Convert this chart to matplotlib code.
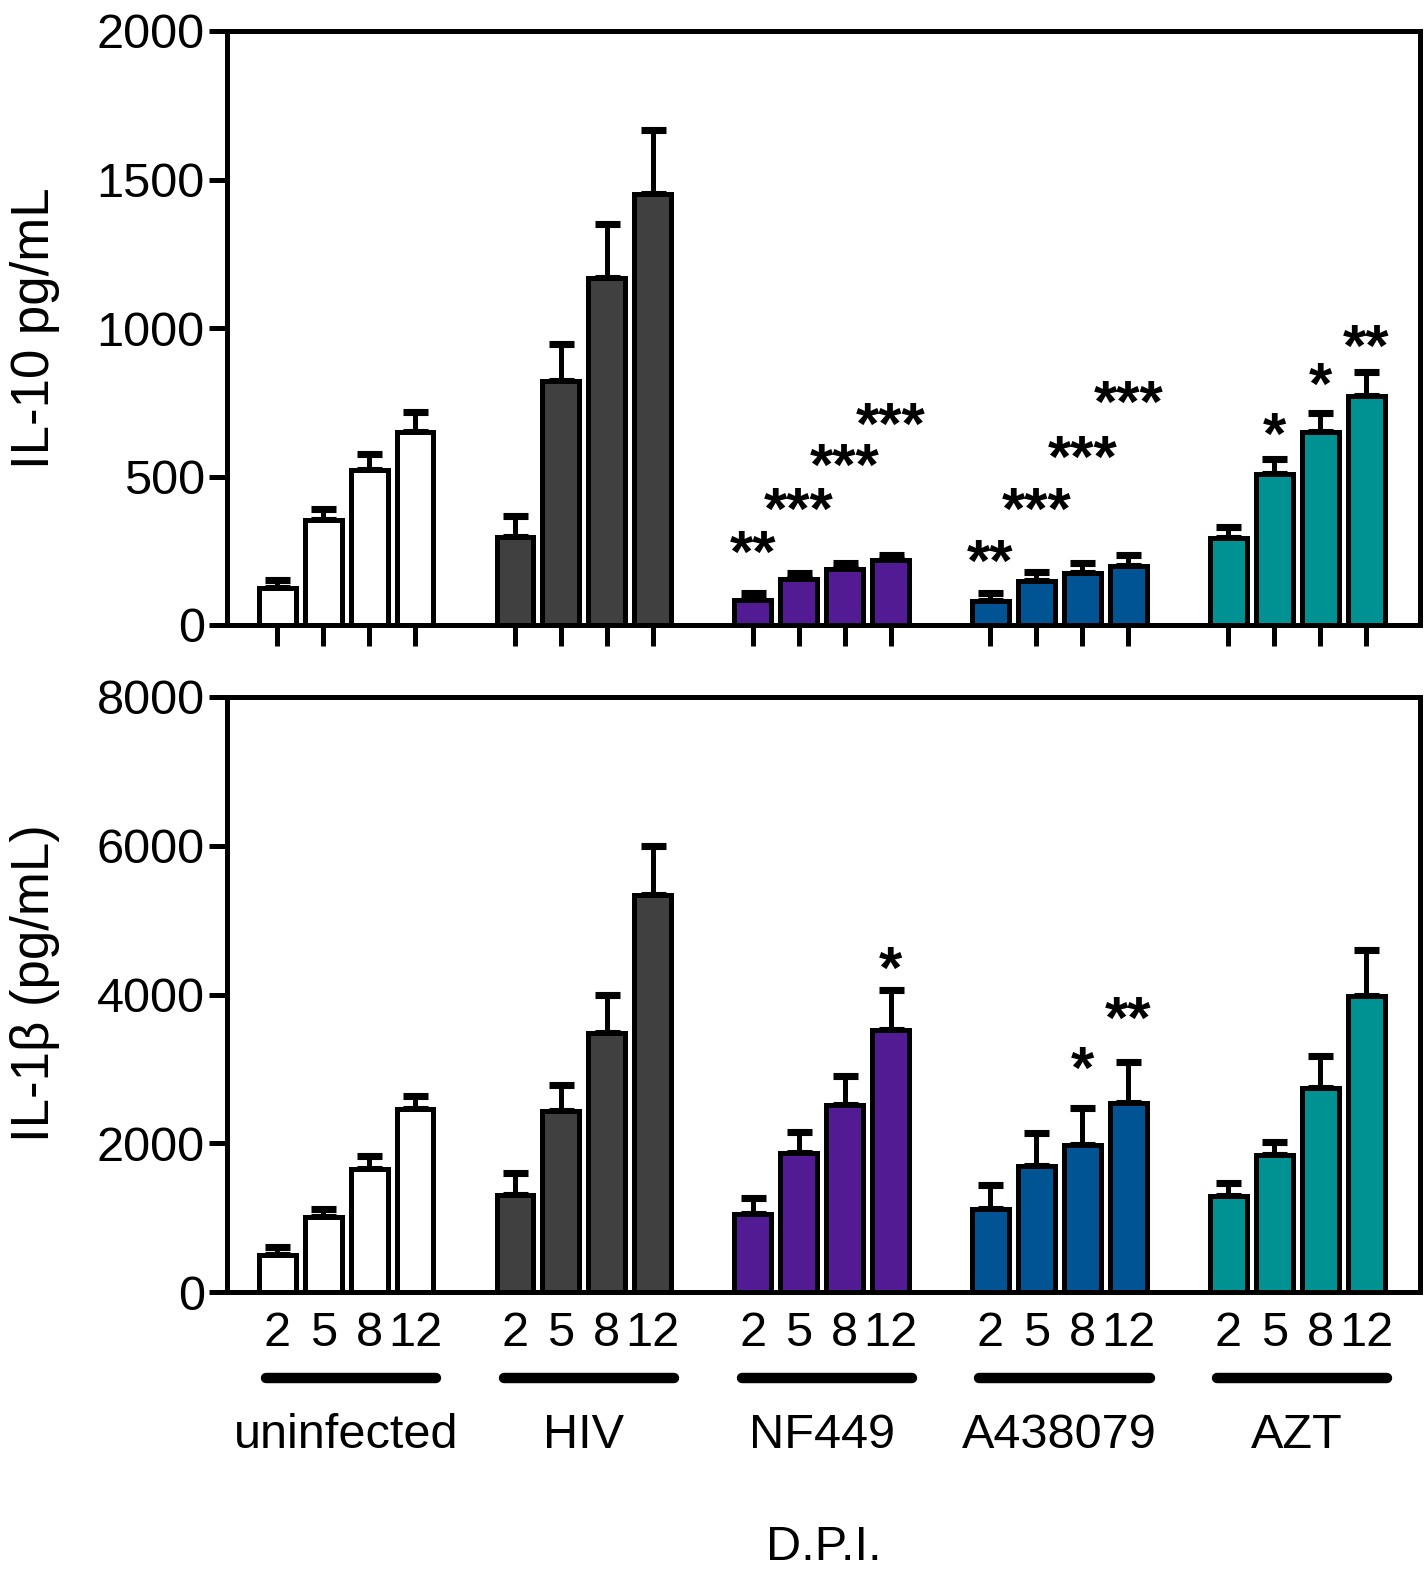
import numpy as np
import matplotlib.pyplot as plt
from matplotlib.transforms import blended_transform_factory, ScaledTranslation

plt.rcParams['font.family'] = ['Liberation Sans', 'DejaVu Sans']

groups = ['uninfected', 'HIV', 'NF449', 'A438079', 'AZT']
days = ['2', '5', '8', '12']
colors = ['#ffffff', '#404040', '#531b93', '#005493', '#009193']

# IL-10 (pg/mL): mean and mean+SEM, per group x day
il10 = [[126, 355, 521, 649],
        [296, 821, 1167, 1452],
        [84, 154, 190, 218],
        [81, 147, 174, 200],
        [294, 507, 649, 772]]
il10_top = [[152, 390, 575, 718],
            [366, 946, 1351, 1665],
            [109, 176, 208, 237],
            [109, 178, 208, 236],
            [331, 558, 713, 851]]
il10_stars = [['', '', '', ''],
              ['', '', '', ''],
              ['**', '***', '***', '***'],
              ['**', '***', '***', '***'],
              ['', '*', '*', '**']]
il10_star_y = [[0, 0, 0, 0],
               [0, 0, 0, 0],
               [281, 427, 576, 713],
               [252, 427, 600, 785],
               [0, 680, 848, 976]]

# IL-1beta (pg/mL)
il1b = [[500, 1005, 1655, 2462],
        [1308, 2432, 3485, 5340],
        [1045, 1865, 2516, 3520],
        [1112, 1695, 1982, 2547],
        [1291, 1839, 2744, 3978]]
il1b_top = [[600, 1115, 1830, 2642],
            [1600, 2780, 3990, 5990],
            [1260, 2152, 2901, 4067],
            [1435, 2134, 2475, 3099],
            [1462, 2018, 3175, 4601]]
il1b_stars = [['', '', '', ''],
              ['', '', '', ''],
              ['', '', '', '*'],
              ['', '', '*', '**'],
              ['', '', '', '']]
il1b_star_y = [[0, 0, 0, 0],
               [0, 0, 0, 0],
               [0, 0, 0, 4503],
               [0, 0, 3160, 3831],
               [0, 0, 0, 0]]

W, H = 1426, 1570
fig = plt.figure(figsize=(W / 100, H / 100), dpi=100)


def fr(x0, y0, x1, y1):
    return [x0 / W, 1 - y1 / H, (x1 - x0) / W, (y1 - y0) / H]


ax1 = fig.add_axes(fr(227, 31, 1420, 625))
ax2 = fig.add_axes(fr(227, 697, 1420, 1292))

gap = 5.17
xpos = [[g * gap + i for i in range(4)] for g in range(len(groups))]
lw = 3.6
star_fs = 43
# asterisk glyph sits high in the text box, pull it down a bit
star_shift = ScaledTranslation(0, -0.15, fig.dpi_scale_trans)


def panel(ax, vals, tops, stars, star_y, ymax, step):
    for g in range(len(groups)):
        x = np.array(xpos[g])
        v = np.array(vals[g])
        t = np.array(tops[g])
        ax.errorbar(x, v, yerr=[np.zeros(4), t - v], fmt='none', ecolor='black',
                    elinewidth=lw, capsize=9, capthick=lw + 1.5, zorder=2)
        ax.bar(x, v, width=0.8, color=colors[g], edgecolor='black', linewidth=lw, zorder=3)
        for i in range(4):
            if stars[g][i]:
                ax.text(x[i], star_y[g][i], stars[g][i], ha='center', va='center',
                        fontsize=star_fs, fontweight='bold', zorder=4,
                        transform=ax.transData + star_shift)
    ax.set_xlim(-1.09, 24.85)
    ax.set_ylim(0, ymax)
    ax.set_yticks(np.arange(0, ymax + 1, step))
    for s in ax.spines.values():
        s.set_linewidth(lw)
    ax.tick_params(axis='y', length=13, width=lw, labelsize=35, pad=3)


panel(ax1, il10, il10_top, il10_stars, il10_star_y, 2000, 500)
panel(ax2, il1b, il1b_top, il1b_stars, il1b_star_y, 8000, 2000)

allx = [x for row in xpos for x in row]
ax1.set_xticks(allx)
ax1.set_xticklabels([])
ax1.tick_params(axis='x', length=15, width=lw)

ax2.set_xticks(allx)
ax2.set_xticklabels(days * len(groups))
ax2.tick_params(axis='x', length=0, labelsize=35, pad=14)

fig.text(35 / W, 1 - 328 / H, 'IL-10 pg/mL', rotation=90, ha='center', va='center', fontsize=38)
fig.text(35 / W, 1 - 983 / H, 'IL-1β (pg/mL)', rotation=90, ha='center', va='center', fontsize=38)

tr = blended_transform_factory(ax2.transData, fig.transFigure)
for g, name in enumerate(groups):
    x0 = xpos[g][0]
    ax2.plot([x0 - 0.24, x0 + 3.46], [1 - 1378 / H] * 2, color='black', lw=7.5,
             solid_capstyle='round', transform=tr, clip_on=False)
    ax2.text(x0 + 1.5, 1 - 1436 / H, name, ha='center', va='center', fontsize=35,
             transform=tr)

fig.text((227 + 1420) / 2 / W, 1 - 1548 / H, 'D.P.I.', ha='center', va='center', fontsize=35)

fig.savefig('out.png', dpi=100)
